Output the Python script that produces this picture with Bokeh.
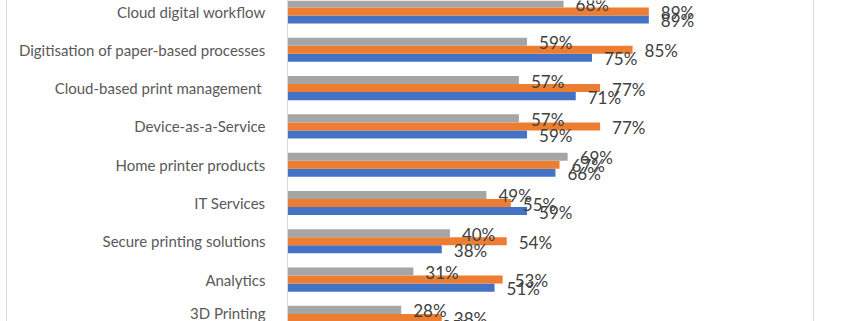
from bokeh.plotting import figure
from bokeh.models import ColumnDataSource, Range1d, FixedTicker
from bokeh.transform import dodge
from bokeh.core.properties import value
from bokeh.embed import file_html
from bokeh.resources import INLINE

categories = [
    "Cloud digital workflow",
    "Digitisation of paper-based processes",
    "Cloud-based print management ",
    "Device-as-a-Service",
    "Home printer products",
    "IT Services",
    "Secure printing solutions",
    "Analytics",
    "3D Printing",
]
series_gray = [68, 59, 57, 57, 69, 49, 40, 31, 28]
series_orange = [89, 85, 77, 77, 67, 55, 54, 53, 38]
series_blue = [89, 75, 71, 59, 66, 59, 38, 51, 35]

positions = list(range(len(categories)))
src = ColumnDataSource(data=dict(
    y=positions,
    gray=series_gray,
    orange=series_orange,
    blue=series_blue,
    gray_lbl=[f"{v}%" for v in series_gray],
    orange_lbl=[f"{v}%" for v in series_orange],
    blue_lbl=[f"{v}%" for v in series_blue],
))

PX_PER_PCT = 4.06
ROW_PX = 38.3
FRAME_W = 528
H = 321
top = -11 / ROW_PX
bottom = top + H / ROW_PX

p = figure(width=808, height=H, output_backend="svg", toolbar_location=None,
           x_range=Range1d(0, FRAME_W / PX_PER_PCT),
           y_range=Range1d(bottom, top),
           x_axis_location=None,
           min_border_left=280, min_border_right=0, min_border_top=0, min_border_bottom=0,
           outline_line_color=None, background_fill_color="white", border_fill_color="white")

p.styles = {"margin-left": "6px", "border-left": "1px solid #D9D9D9",
            "border-right": "1px solid #D9D9D9"}

bh = 0.21
colors = {"gray": "#A5A5A5", "orange": "#ED7D31", "blue": "#4472C4"}
offsets = {"gray": -bh, "orange": 0.0, "blue": bh}
for key in ["blue", "orange", "gray"]:
    p.hbar(y=dodge("y", offsets[key], range=p.y_range), right=key, left=0, height=bh,
           source=src, fill_color=colors[key], line_color=None)
for key in ["blue", "orange", "gray"]:
    p.text(x=key, y=dodge("y", offsets[key], range=p.y_range), text=key + "_lbl", source=src,
           x_offset=12, y_offset=1, text_align="left", text_baseline="middle",
           text_font=value("Lato"), text_font_size="17px", text_color="#404040")

p.xgrid.visible = False
p.ygrid.visible = False
ax = p.yaxis[0]
ax.ticker = FixedTicker(ticks=positions)
ax.major_label_overrides = {i: c for i, c in zip(positions, categories)}
ax.major_tick_line_color = None
ax.minor_tick_line_color = None
ax.axis_line_color = "#D9D9D9"
ax.major_label_text_font = "Lato"
ax.major_label_text_font_size = "15px"
ax.major_label_text_color = "#595959"
ax.major_label_standoff = 16

open("out.html", "w").write(file_html(p, INLINE))
